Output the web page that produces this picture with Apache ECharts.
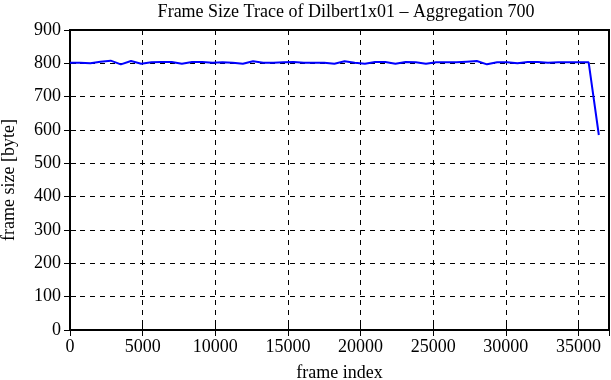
<!DOCTYPE html>
<html>
<head>
    <meta charset="utf-8" />
    <script src="https://cdn.jsdelivr.net/npm/echarts@6/dist/echarts.min.js"></script>
    <style>
        html, body { margin: 0; padding: 0; background: #fff; }
    </style>
</head>
<body>
    <div id="main" style="width:611px;height:380px;"></div>
    <script>
        // aggregation 700 -> one point every 700 frames
        var frameIndex = [0, 700, 1400, 2100, 2800, 3500, 4200, 4900, 5600, 6300,
            7000, 7700, 8400, 9100, 9800, 10500, 11200, 11900, 12600, 13300,
            14000, 14700, 15400, 16100, 16800, 17500, 18200, 18900, 19600, 20300,
            21000, 21700, 22400, 23100, 23800, 24500, 25200, 25900, 26600, 27300,
            28000, 28700, 29400, 30100, 30800, 31500, 32200, 32900, 33600, 34300,
            35000, 35700, 36400];
        var frameSize = [802, 802, 800, 805, 808, 797, 807, 799, 803, 804,
            804, 799, 804, 804, 802, 803, 802, 799, 806, 802,
            802, 803, 804, 802, 802, 802, 799, 806, 802, 799,
            804, 804, 799, 804, 803, 799, 803, 803, 803, 805,
            807, 797, 803, 803, 800, 804, 804, 802, 803, 803,
            803, 803, 585];

        var font = '"Liberation Serif", "DejaVu Serif", serif';
        var myChart = echarts.init(document.getElementById('main'));

        var data = frameIndex.map(function (x, i) { return [x, frameSize[i]]; });

        var gridDash = { color: '#000', width: 1, type: [5, 5] };
        var plain = function (v) { return String(v); };

        var option = {
            animation: false,
            title: {
                text: 'Frame Size Trace of Dilbert1x01 \u2013 Aggregation 700',
                left: 341,
                top: -2,
                textAlign: 'center',
                textStyle: { fontFamily: font, fontSize: 18, fontWeight: 'normal', color: '#000' }
            },
            grid: {
                left: 70, right: 2, top: 30, bottom: 50,
                outerBoundsMode: 'none',
                show: true, borderColor: '#000', borderWidth: 2
            },
            xAxis: [
                {
                    type: 'value',
                    min: 0,
                    max: 37100,
                    interval: 5000,
                    name: 'frame index',
                    nameLocation: 'middle',
                    nameGap: 34,
                    nameTextStyle: { fontFamily: font, fontSize: 18, color: '#000' },
                    axisLine: { show: true, lineStyle: { color: '#000', width: 2 } },
                    axisTick: { show: true, inside: true, length: 6, lineStyle: { color: '#000' } },
                    axisLabel: { fontFamily: font, fontSize: 18, color: '#000', margin: 8, showMaxLabel: false, formatter: plain },
                    splitLine: { show: true, lineStyle: gridDash }
                },
                {
                    type: 'value',
                    position: 'top',
                    min: 0,
                    max: 37100,
                    interval: 5000,
                    axisLine: { show: false },
                    axisTick: { show: true, inside: true, length: 6, lineStyle: { color: '#000' } },
                    axisLabel: { show: false },
                    splitLine: { show: false }
                }
            ],
            yAxis: [
                {
                    type: 'value',
                    min: 0,
                    max: 900,
                    interval: 100,
                    name: 'frame size [byte]',
                    nameLocation: 'middle',
                    nameGap: 52,
                    nameTextStyle: { fontFamily: font, fontSize: 18, color: '#000' },
                    axisLine: { show: true, lineStyle: { color: '#000', width: 2 } },
                    axisTick: { show: true, inside: true, length: 6, lineStyle: { color: '#000' } },
                    axisLabel: { fontFamily: font, fontSize: 18, color: '#000', margin: 9, formatter: plain },
                    splitLine: { show: true, lineStyle: gridDash }
                },
                {
                    type: 'value',
                    position: 'right',
                    min: 0,
                    max: 900,
                    interval: 100,
                    axisLine: { show: false },
                    axisTick: { show: true, inside: true, length: 6, lineStyle: { color: '#000' } },
                    axisLabel: { show: false },
                    splitLine: { show: false }
                }
            ],
            series: [
                {
                    type: 'line',
                    data: data,
                    symbol: 'none',
                    lineStyle: { color: '#0000ff', width: 2 },
                    z: 5
                }
            ]
        };

        myChart.setOption(option);
    </script>
</body>
</html>
